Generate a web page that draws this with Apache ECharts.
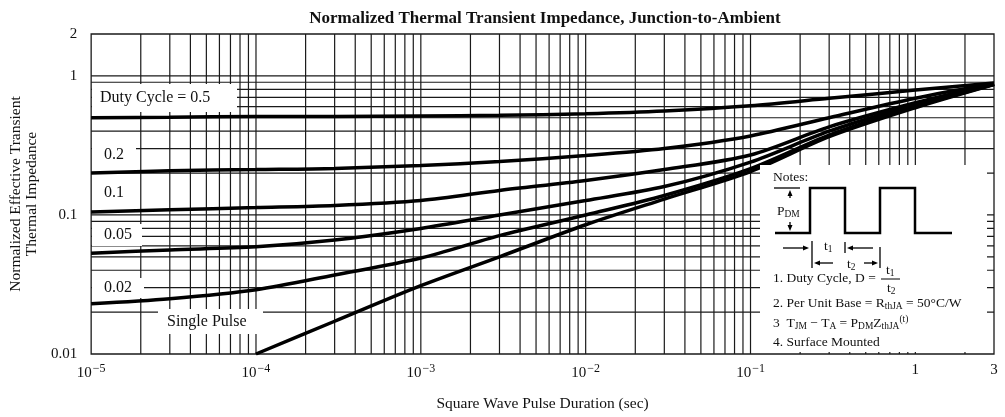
<!DOCTYPE html>
<html>
<head>
<meta charset="utf-8">
<script src="https://cdn.jsdelivr.net/npm/echarts@6/dist/echarts.min.js"></script>
<style>
  html, body { margin: 0; padding: 0; background: #fff; }
  #chart { width: 1005px; height: 417px; }
</style>
</head>
<body>
<div id="chart"></div>
<script>
// tick positions / labels
const xTicks = [1e-5, 1e-4, 1e-3, 1e-2, 1e-1, 1, 3];
const xTickLabels = ['10{sup|−5}', '10{sup|−4}', '10{sup|−3}', '10{sup|−2}', '10{sup|−1}', '1', '3'];
const yTicks = [0.01, 0.1, 1, 2];
const yTickLabels = ['0.01', '0.1', '1', '2'];

// curves
const pulseTimes = [1e-5, 3e-5, 1e-4, 3e-4, 1e-3, 3e-3, 1e-2, 3e-2, 0.1, 0.3, 1, 3];
const duty05  = [0.50, 0.505, 0.51, 0.51, 0.515, 0.52, 0.535, 0.56, 0.61, 0.69, 0.79, 0.89];
const duty02  = [0.20, 0.208, 0.212, 0.216, 0.227, 0.242, 0.267, 0.30, 0.37, 0.50, 0.69, 0.88];
const duty01  = [0.105, 0.109, 0.113, 0.117, 0.127, 0.15, 0.177, 0.212, 0.27, 0.43, 0.64, 0.875];
const duty005 = [0.053, 0.056, 0.059, 0.066, 0.080, 0.10, 0.127, 0.16, 0.24, 0.40, 0.62, 0.87];
const duty002 = [0.023, 0.025, 0.029, 0.037, 0.049, 0.071, 0.10, 0.138, 0.215, 0.375, 0.60, 0.87];
const singleTimes = [1e-4, 3e-4, 1e-3, 3e-3, 1e-2, 3e-2, 0.1, 0.3, 1, 3];
const singlePulse = [0.010, 0.0172, 0.031, 0.050, 0.085, 0.13, 0.205, 0.365, 0.59, 0.865];

const FONT = '"Liberation Serif", "DejaVu Serif", serif';
const INK = '#111';
const X_MIN = 1e-5, X_MAX = 3, Y_MIN = 0.01, Y_MAX = 2;

// log grid lines (1..9 per decade)
const gridX = [];
for (let e = -5; e <= 0; e++) {
    for (let k = 1; k <= 9; k++) {
        const v = k * Math.pow(10, e);
        if (v > X_MIN * 1.001 && v < X_MAX * 0.999) gridX.push(v);
    }
}
const gridY = [];
for (let e = -2; e <= 0; e++) {
    for (let k = 1; k <= 9; k++) {
        const v = k * Math.pow(10, e);
        if (v > Y_MIN * 1.001 && v < Y_MAX * 0.999) gridY.push(v);
    }
}

const pickLabel = (v, ticks, labels) => {
    let best = 0;
    ticks.forEach((t, i) => {
        if (Math.abs(Math.log10(t) - Math.log10(v)) < Math.abs(Math.log10(ticks[best]) - Math.log10(v))) best = i;
    });
    return labels[best];
};

const curve = (name, xs, ys) => ({
    name: name,
    type: 'line',
    data: xs.map((x, i) => [x, ys[i]]),
    smooth: 0.3,
    showSymbol: false,
    symbol: 'none',
    lineStyle: { color: '#000', width: 3.5 },
    z: 10,
    silent: true
});

// grid lines through the axes' own scales
const gridLines = (values, vertical) => ({
    type: 'custom',
    silent: true,
    z: 1,
    data: values.map(v => vertical ? [v, Y_MIN] : [X_MIN, v]),
    renderItem: (params, api) => {
        const p1 = vertical ? api.coord([api.value(0), Y_MIN]) : api.coord([X_MIN, api.value(1)]);
        const p2 = vertical ? api.coord([api.value(0), Y_MAX]) : api.coord([X_MAX, api.value(1)]);
        return {
            type: 'line',
            shape: { x1: p1[0], y1: p1[1], x2: p2[0], y2: p2[1] },
            style: { stroke: '#1a1a1a', lineWidth: 1.2 }
        };
    }
});

// small helpers for the notes inset
const whiteBox = (x, y, w, h) => ({
    type: 'rect', shape: { x: x, y: y, width: w, height: h },
    style: { fill: '#fff' }, z: 20, silent: true
});
const txt = (x, y, text, size, extra) => ({
    type: 'text', x: x, y: y, z: 30, silent: true,
    style: Object.assign({
        text: text, font: size + 'px ' + FONT, fill: INK,
        align: 'left', verticalAlign: 'middle',
        rich: {
            sub: { fontSize: size * 0.7, fontFamily: FONT, fill: INK, padding: [size * 0.55, 0, 0, 0] },
            sup: { fontSize: size * 0.7, fontFamily: FONT, fill: INK, padding: [0, 0, size * 0.55, 0] }
        }
    }, extra || {})
});
const seg = (pts, w) => ({
    type: 'polyline', z: 30, silent: true,
    shape: { points: pts },
    style: { stroke: '#000', lineWidth: w || 1.5, fill: null }
});
const arrow = (x1, y1, x2, y2) => {
    const a = Math.atan2(y2 - y1, x2 - x1);
    const L = 6, W = 2.5;
    const bx = x2 - L * Math.cos(a), by = y2 - L * Math.sin(a);
    return [
        seg([[x1, y1], [bx, by]], 1.3),
        {
            type: 'polygon', z: 30, silent: true,
            shape: { points: [[x2, y2], [bx - W * Math.sin(a), by + W * Math.cos(a)], [bx + W * Math.sin(a), by - W * Math.cos(a)]] },
            style: { fill: '#000' }
        }
    ];
};

const graphics = [
    // label backgrounds
    whiteBox(92, 84, 145, 28),
    whiteBox(92, 142, 44, 26),
    whiteBox(92, 180, 44, 27),
    whiteBox(92, 224, 50, 22),
    whiteBox(92, 278, 52, 20),
    whiteBox(158, 309, 105, 25),
    // notes panel
    whiteBox(760, 165, 227, 187),

    txt(100, 98, 'Duty Cycle = 0.5', 16),
    txt(104, 155, '0.2', 16),
    txt(104, 193, '0.1', 16),
    txt(104, 235, '0.05', 16),
    txt(104, 288, '0.02', 16),
    txt(167, 322, 'Single Pulse', 16),

    txt(773, 177, 'Notes:', 13.5),
    seg([[775, 233], [810, 233], [810, 188], [845, 188], [845, 233], [880, 233], [880, 188], [915, 188], [915, 233], [952, 233]], 2.5),
    seg([[774, 188], [800, 188]], 1.3),
    ...arrow(790, 198, 790, 190),
    ...arrow(790, 222, 790, 231),
    txt(777, 211, 'P{sub|DM}', 13.5),
    // t1 / t2 dimensions
    ...arrow(783, 248, 809, 248),
    seg([[812, 241], [812, 268]], 1.3),
    txt(824, 246, 't{sub|1}', 13.5),
    seg([[845, 242], [845, 253]], 1.3),
    ...arrow(873, 248, 847, 248),
    ...arrow(833, 263, 814, 263),
    txt(847, 264, 't{sub|2}', 13.5),
    ...arrow(864, 263, 878, 263),
    seg([[880, 247], [880, 268]], 1.3),

    txt(773, 278, '1. Duty Cycle, D =', 13.5),
    txt(886, 270, 't{sub|1}', 13.5),
    seg([[881, 279], [900, 279]], 1),
    txt(887, 288, 't{sub|2}', 13.5),
    txt(773, 303, '2. Per Unit Base = R{sub|thJA} = 50°C/W', 13.5),
    txt(773, 323, '3  T{sub|JM} − T{sub|A} = P{sub|DM}Z{sub|thJA}{sup|(t)}', 13.5),
    txt(773, 342, '4. Surface Mounted', 13.5)
];

const option = {
    animation: false,
    backgroundColor: '#fff',
    title: {
        text: 'Normalized Thermal Transient Impedance, Junction-to-Ambient',
        left: 540,
        textAlign: 'center',
        top: 5,
        textStyle: { fontFamily: FONT, fontSize: 17, fontWeight: 'bold', color: INK }
    },
    grid: {
        left: 87, right: 11, top: 34, bottom: 61,
        show: true, borderColor: '#1a1a1a', borderWidth: 1.3, backgroundColor: 'transparent'
    },
    xAxis: {
        type: 'log',
        min: X_MIN,
        max: X_MAX,
        logBase: 10,
        name: 'Square Wave Pulse Duration (sec)',
        nameLocation: 'middle',
        nameGap: 42,
        nameTextStyle: { fontFamily: FONT, fontSize: 15.5, color: INK },
        axisLine: { show: false },
        axisTick: { show: false },
        splitLine: { show: false },
        axisLabel: {
            margin: 9,
            fontFamily: FONT, fontSize: 15, color: INK,
            showMinLabel: true, showMaxLabel: true,
            formatter: v => pickLabel(v, xTicks, xTickLabels),
            rich: { sup: { fontFamily: FONT, fontSize: 12, color: INK, padding: [0, 0, 9, 1] } }
        }
    },
    yAxis: {
        type: 'log',
        min: Y_MIN,
        max: Y_MAX,
        logBase: 10,
        name: 'Normalized Effective Transient\nThermal Impedance',
        nameLocation: 'middle',
        nameGap: 48,
        nameTextStyle: { fontFamily: FONT, fontSize: 15.5, color: INK, lineHeight: 16 },
        axisLine: { show: false },
        axisTick: { show: false },
        splitLine: { show: false },
        axisLabel: {
            margin: 14,
            fontFamily: FONT, fontSize: 15, color: INK,
            showMinLabel: true, showMaxLabel: true,
            formatter: v => pickLabel(v, yTicks, yTickLabels)
        }
    },
    series: [
        gridLines(gridX, true),
        gridLines(gridY, false),
        curve('0.5', pulseTimes, duty05),
        curve('0.2', pulseTimes, duty02),
        curve('0.1', pulseTimes, duty01),
        curve('0.05', pulseTimes, duty005),
        curve('0.02', pulseTimes, duty002),
        curve('Single Pulse', singleTimes, singlePulse)
    ],
    graphic: graphics
};

const chart = echarts.init(document.getElementById('chart'));
chart.setOption(option);
</script>
</body>
</html>
